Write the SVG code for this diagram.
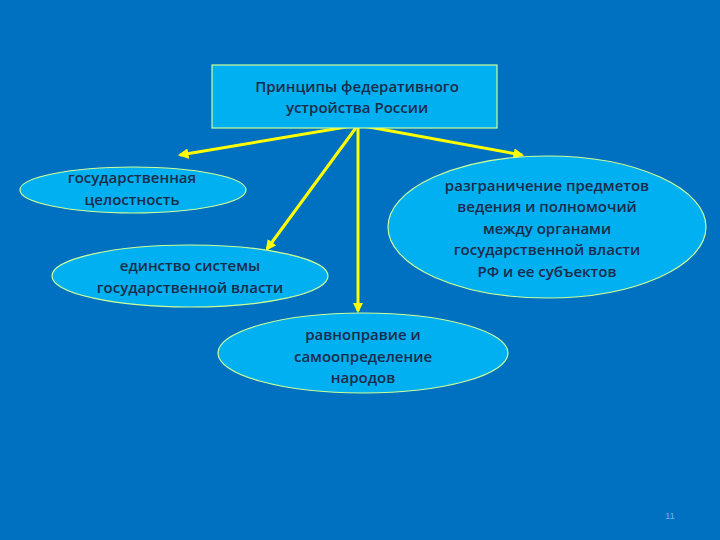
<svg xmlns="http://www.w3.org/2000/svg" width="720" height="540" viewBox="0 0 720 540">
<defs>
<marker id="ah" viewBox="0 0 10 10" refX="8" refY="5" markerWidth="3.5" markerHeight="3.5" orient="auto" markerUnits="strokeWidth">
<path d="M0,0 L10,5 L0,10 z" fill="#FFFF00"/>
</marker>
<style>
.n{fill:#00B0F0;stroke:#CCFF99;stroke-width:1.2}
.t{font-family:"Open Sans","Liberation Sans",sans-serif;font-size:15px;font-weight:600;fill:#1B2B4B;text-anchor:middle}
.c{stroke:#FFFF00;stroke-width:3;fill:none;marker-end:url(#ah)}
</style>
</defs>
<rect width="720" height="540" fill="#0070C0"/>
<g id="connectors">
<line class="c" x1="358" y1="125" x2="180" y2="155"/>
<line class="c" x1="358" y1="125" x2="267" y2="249"/>
<line class="c" x1="358" y1="125" x2="358" y2="311"/>
<line class="c" x1="358" y1="125" x2="522" y2="155"/>
</g>
<g id="root">
<rect class="n" x="212" y="65" width="285" height="63"/>
<text class="t" x="357" y="92">Принципы федеративного</text>
<text class="t" x="357" y="113">устройства России</text>
</g>
<g id="n1">
<ellipse class="n" cx="133" cy="190" rx="113" ry="23"/>
<text class="t" x="132" y="183">государственная</text>
<text class="t" x="132" y="205">целостность</text>
</g>
<g id="n2">
<ellipse class="n" cx="190" cy="276" rx="138" ry="31"/>
<text class="t" x="190" y="271">единство системы</text>
<text class="t" x="190" y="293">государственной власти</text>
</g>
<g id="n3">
<ellipse class="n" cx="547" cy="227" rx="159" ry="71"/>
<text class="t" x="547" y="191">разграничение предметов</text>
<text class="t" x="547" y="212">ведения и полномочий</text>
<text class="t" x="547" y="234">между органами</text>
<text class="t" x="547" y="255">государственной власти</text>
<text class="t" x="547" y="277">РФ и ее субъектов</text>
</g>
<g id="n4">
<ellipse class="n" cx="363" cy="353" rx="145" ry="40"/>
<text class="t" x="363" y="340">равноправие и</text>
<text class="t" x="363" y="362">самоопределение</text>
<text class="t" x="363" y="383">народов</text>
</g>
<text x="670" y="519" font-family="Liberation Sans, sans-serif" font-size="9" fill="#6FB7E8" text-anchor="middle">11</text>
</svg>
